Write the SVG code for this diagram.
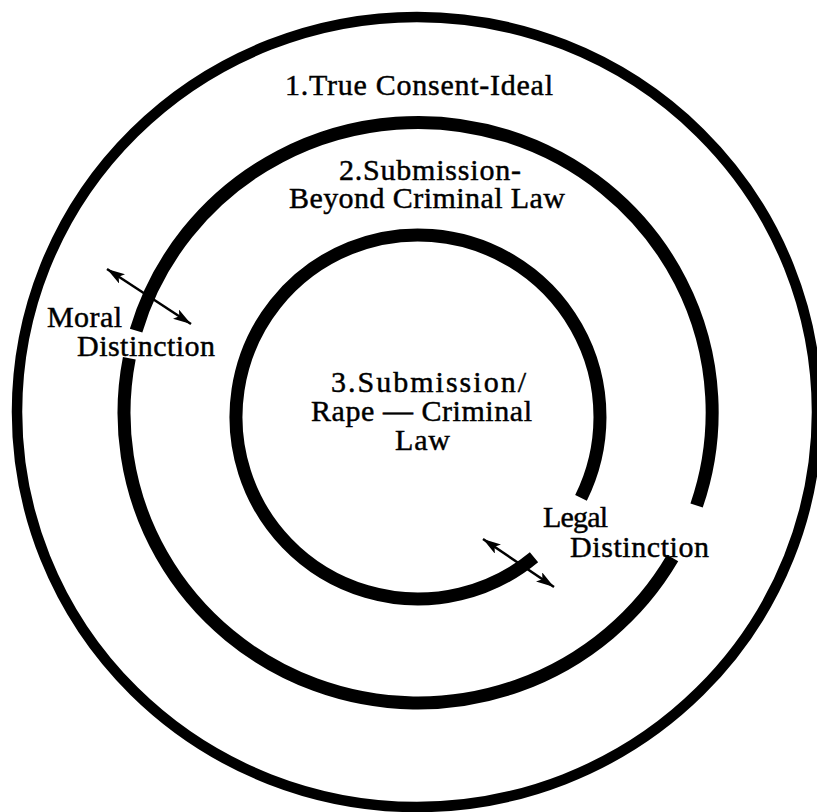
<svg xmlns="http://www.w3.org/2000/svg" width="817" height="812" viewBox="0 0 817 812">
<style>
.ring{fill:none;stroke:#000}
.t{font-family:"Liberation Serif","Times New Roman",serif;font-size:30px;fill:#000;stroke:#000;stroke-width:0.45}
.c{text-anchor:middle}
.arr{stroke:#000;stroke-width:2.5;fill:none}
</style>
<defs>
<marker id="ah" viewBox="0 0 18 11" refX="18" refY="5.5" markerWidth="18" markerHeight="11" markerUnits="userSpaceOnUse" orient="auto-start-reverse">
<path d="M0,0 L18,5.5 L0,11 L4,5.5 Z" fill="#000"/>
</marker>
</defs>
<rect width="817" height="812" fill="#fff"/>
<g id="ring1">
<ellipse class="ring" cx="417" cy="412" rx="400" ry="395" stroke-width="10.5"/>
<text class="t c" x="419" y="95" textLength="268">1.True Consent-Ideal</text>
</g>
<g id="ring2">
<path class="ring" stroke-width="13" d="M672.6,558 A294,290 0 0 1 129.3,358.2"/>
<path class="ring" stroke-width="13" d="M136.1,330.6 A294,290 0 1 1 696.6,505.5"/>
<text class="t c" x="430" y="180" textLength="182">2.Submission-</text>
<text class="t c" x="427" y="208" textLength="276">Beyond Criminal Law</text>
</g>
<g id="ring3">
<path class="ring" stroke-width="13" d="M534,557.2 A182,182 0 1 1 581,497.9"/>
<text class="t c" x="428.5" y="392" textLength="195">3.Submission/</text>
<text class="t c" x="421.5" y="421" textLength="221">Rape — Criminal</text>
<text class="t c" x="422.5" y="450" textLength="55">Law</text>
</g>
<g id="moral">
<text class="t" x="47" y="327" textLength="75">Moral</text>
<text class="t" x="77" y="356" textLength="138">Distinction</text>
</g>
<g id="legal">
<text class="t" x="543" y="527" textLength="65">Legal</text>
<text class="t" x="570" y="557" textLength="139">Distinction</text>
</g>
<g id="connectors">
<line class="arr" x1="107" y1="269" x2="191" y2="324" marker-start="url(#ah)" marker-end="url(#ah)"/>
<line class="arr" x1="483" y1="539" x2="554" y2="587" marker-start="url(#ah)" marker-end="url(#ah)"/>
</g>
</svg>
